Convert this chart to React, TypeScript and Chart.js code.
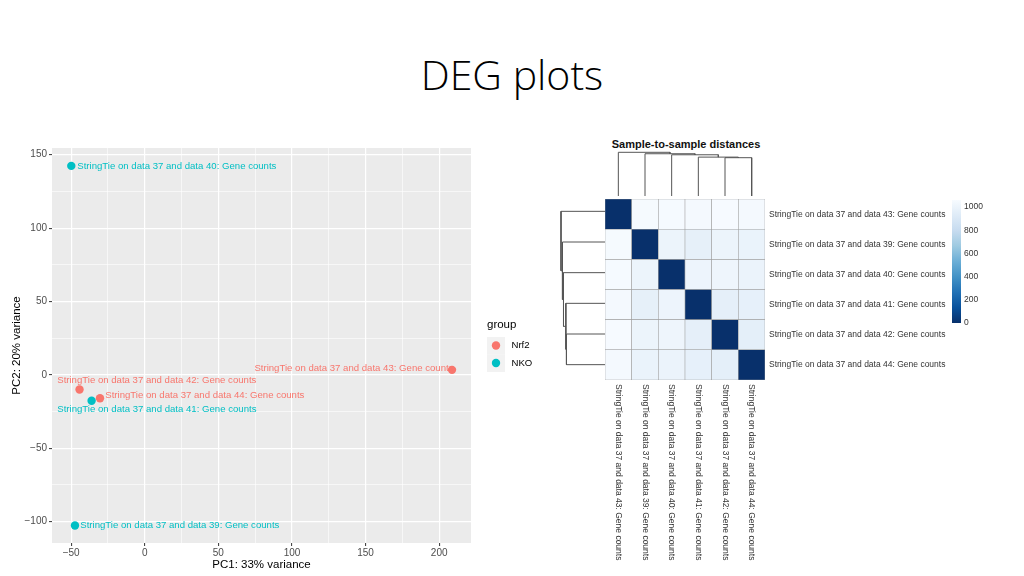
import React, { useEffect, useRef } from "react";
import { Chart, registerables } from "chart.js";

Chart.register(...registerables);
Chart.defaults.font.family = "'Liberation Sans', Arial, sans-serif";

// ---------- PCA data ----------
const samples = [
  "StringTie on data 37 and data 39: Gene counts",
  "StringTie on data 37 and data 40: Gene counts",
  "StringTie on data 37 and data 41: Gene counts",
  "StringTie on data 37 and data 42: Gene counts",
  "StringTie on data 37 and data 43: Gene counts",
  "StringTie on data 37 and data 44: Gene counts",
];
const sampleGroup = ["NKO", "NKO", "NKO", "Nrf2", "Nrf2", "Nrf2"];
const pc1 = [-47.4, -49.9, -36.1, -44.3, 208.7, -30.4];
const pc2 = [-102.7, 142.4, -17.7, -10.0, 3.4, -15.9];
const groups = ["Nrf2", "NKO"];
const groupColors = ["#F8766D", "#00BFC4"];
const xTicksMajor = [-50, 0, 50, 100, 150, 200];
const xTicksMinor = [-25, 25, 75, 125, 175];
const yTicksMajor = [-100, -50, 0, 50, 100, 150];
const yTicksMinor = [-75, -25, 25, 75, 125];

// label placement (style only)
const labelOffsets = [
  { dx: 5.3, dy: 0, align: "left" },
  { dx: 6, dy: 0, align: "left" },
  { dx: -34.3, dy: 8.7, align: "left" },
  { dx: -22.3, dy: -9, align: "left" },
  { dx: 1.5, dy: -1.3, align: "right" },
  { dx: 5.3, dy: -2.7, align: "left" },
];

// ---------- Heatmap data (order: 43, 39, 40, 41, 42, 44) ----------
const heatLabels = [
  "StringTie on data 37 and data 43: Gene counts",
  "StringTie on data 37 and data 39: Gene counts",
  "StringTie on data 37 and data 40: Gene counts",
  "StringTie on data 37 and data 41: Gene counts",
  "StringTie on data 37 and data 42: Gene counts",
  "StringTie on data 37 and data 44: Gene counts",
];
const distRow43 = [0, 1050, 1052, 1042, 1055, 1045];
const distRow39 = [1050, 0, 1000, 968, 1000, 992];
const distRow40 = [1052, 1000, 0, 1005, 1012, 995];
const distRow41 = [1042, 968, 1005, 0, 962, 972];
const distRow42 = [1055, 1000, 1012, 962, 0, 958];
const distRow44 = [1045, 992, 995, 972, 958, 0];
const distMatrix = [distRow43, distRow39, distRow40, distRow41, distRow42, distRow44];
const colorMax = 1060;
const colorLegendTicks = [0, 200, 400, 600, 800, 1000];
const dendroMerges = [[-5, -6], [-4, 1], [-3, 2], [-2, 3], [-1, 4]];
const dendroHeights = [929, 943, 1000, 1025, 1060];

const bluesPalette = ["#08306B", "#08519C", "#2171B5", "#4292C6", "#6BAED6", "#9ECAE1", "#C6DBEF", "#DEEBF7", "#F7FBFF"];

function hexToRgb(h: string) {
  return [parseInt(h.slice(1, 3), 16), parseInt(h.slice(3, 5), 16), parseInt(h.slice(5, 7), 16)];
}
function blues(v: number) {
  const t = Math.max(0, Math.min(1, v / colorMax)) * 8;
  const i = Math.min(7, Math.floor(t));
  const f = t - i;
  const a = hexToRgb(bluesPalette[i]);
  const b = hexToRgb(bluesPalette[i + 1]);
  const c = a.map((x, k) => Math.round(x + (b[k] - x) * f));
  return `rgb(${c[0]},${c[1]},${c[2]})`;
}

function dendroSegments() {
  const pos: number[] = [];
  const hgt: number[] = [];
  const segs: { p: number; h: number }[][] = [];
  const getP = (c: number) => (c < 0 ? -c - 1 + 0.5 : pos[c - 1]);
  const getH = (c: number) => (c < 0 ? 0 : hgt[c - 1]);
  dendroMerges.forEach(([a, b], k) => {
    const pa = getP(a), pb = getP(b), ha = getH(a), hb = getH(b), h = dendroHeights[k];
    segs.push([{ p: pa, h: ha }, { p: pa, h }, { p: pb, h }, { p: pb, h: hb }]);
    pos[k] = (pa + pb) / 2;
    hgt[k] = h;
  });
  return segs;
}

const minus = (v: number) => (v < 0 ? "\u2212" + Math.abs(v) : String(v));

export default function App() {
  const pcaRef = useRef<HTMLCanvasElement>(null);
  const heatRef = useRef<HTMLCanvasElement>(null);
  const topRef = useRef<HTMLCanvasElement>(null);
  const leftRef = useRef<HTMLCanvasElement>(null);

  useEffect(() => {
    const charts: Chart[] = [];
    const isMajor = (v: number, list: number[]) => list.includes(v);

    // ---------- PCA ----------
    const panelBg = {
      id: "panelBg",
      beforeDraw(chart: any) {
        const { ctx, chartArea: a } = chart;
        ctx.save();
        ctx.fillStyle = "#EBEBEB";
        ctx.fillRect(a.left, a.top, a.right - a.left, a.bottom - a.top);
        ctx.restore();
      },
    };
    const pointLabels = {
      id: "pointLabels",
      afterDatasetsDraw(chart: any) {
        const { ctx, scales } = chart;
        ctx.save();
        ctx.font = "9.6px 'Liberation Sans', Arial, sans-serif";
        ctx.textBaseline = "middle";
        samples.forEach((s, i) => {
          const o = labelOffsets[i];
          const px = scales.x.getPixelForValue(pc1[i]);
          const py = scales.y.getPixelForValue(pc2[i]);
          ctx.fillStyle = groupColors[groups.indexOf(sampleGroup[i])];
          ctx.textAlign = o.align;
          ctx.fillText(s, px + o.dx, py + o.dy);
        });
        ctx.restore();
      },
    };
    const groupLegend = {
      id: "groupLegend",
      afterDraw(chart: any) {
        const { ctx } = chart;
        ctx.save();
        ctx.fillStyle = "#000";
        ctx.font = "11.5px 'Liberation Sans', Arial, sans-serif";
        ctx.textBaseline = "middle";
        ctx.textAlign = "left";
        ctx.fillText("group", 487, 185);
        groups.forEach((g, gi) => {
          const top = 197 + gi * 17.5;
          ctx.fillStyle = "#F2F2F2";
          ctx.fillRect(487, top, 18, 17.5);
          ctx.fillStyle = groupColors[gi];
          ctx.beginPath();
          ctx.arc(496, top + 8.5, 4.2, 0, Math.PI * 2);
          ctx.fill();
          ctx.fillStyle = "#000";
          ctx.font = "9.6px 'Liberation Sans', Arial, sans-serif";
          ctx.fillText(g, 511.5, top + 8.5);
        });
        ctx.restore();
      },
    };

    const gridOpts = (major: number[]) => ({
      color: "#FFFFFF",
      lineWidth: (c: any) => (isMajor(c.tick?.value, major) ? 1.2 : 0.6),
      tickColor: (c: any) => (isMajor(c.tick?.value, major) ? "#333333" : "rgba(0,0,0,0)"),
      tickLength: 3,
      tickWidth: 1,
      drawTicks: true,
    });

    charts.push(
      new Chart(pcaRef.current!, {
        type: "scatter",
        data: {
          datasets: groups.map((g, gi) => ({
            label: g,
            data: pc1
              .map((x, i) => ({ x, y: pc2[i], g: sampleGroup[i] }))
              .filter((d) => d.g === g)
              .map((d) => ({ x: d.x, y: d.y })),
            backgroundColor: groupColors[gi],
            borderWidth: 0,
            pointRadius: 4.2,
            pointHoverRadius: 4.2,
          })),
        },
        options: {
          responsive: false,
          animation: false,
          devicePixelRatio: 1,
          events: [],
          layout: { padding: { top: 7, right: 89, left: 0, bottom: 0 } },
          plugins: { legend: { display: false }, tooltip: { enabled: false } },
          scales: {
            x: {
              type: "linear",
              min: -63,
              max: 221.6,
              afterBuildTicks: (s: any) => {
                s.ticks = [...xTicksMajor, ...xTicksMinor].sort((a, b) => a - b).map((v) => ({ value: v }));
              },
              afterFit: (s: any) => {
                s.height = 33;
              },
              grid: gridOpts(xTicksMajor) as any,
              border: { display: false },
              ticks: {
                autoSkip: false,
                maxRotation: 0,
                padding: 1,
                color: "#4D4D4D",
                font: { size: 10 },
                callback: (v: any) => (isMajor(v, xTicksMajor) ? minus(v) : ""),
              },
              title: {
                display: true,
                text: "PC1: 33% variance",
                color: "#000",
                font: { size: 11.5 },
                padding: { top: 0, bottom: 4 },
              },
            },
            y: {
              type: "linear",
              min: -114.6,
              max: 154.6,
              afterBuildTicks: (s: any) => {
                s.ticks = [...yTicksMajor, ...yTicksMinor].sort((a, b) => a - b).map((v) => ({ value: v }));
              },
              afterFit: (s: any) => {
                s.width = 52;
              },
              grid: gridOpts(yTicksMajor) as any,
              border: { display: false },
              ticks: {
                autoSkip: false,
                padding: 2,
                color: "#4D4D4D",
                font: { size: 10 },
                callback: (v: any) => (isMajor(v, yTicksMajor) ? minus(v) : ""),
              },
              title: {
                display: true,
                text: "PC2: 20% variance",
                color: "#000",
                font: { size: 11.5 },
                padding: { top: 10, bottom: 0 },
              },
            },
          },
        },
        plugins: [panelBg, pointLabels, groupLegend],
      } as any)
    );

    // ---------- Heatmap ----------
    const colLabels = {
      id: "colLabels",
      afterDraw(chart: any) {
        const { ctx, scales, chartArea } = chart;
        ctx.save();
        ctx.font = "8.5px 'Liberation Sans', Arial, sans-serif";
        ctx.fillStyle = "#333";
        ctx.textAlign = "left";
        ctx.textBaseline = "middle";
        heatLabels.forEach((l, j) => {
          const x = scales.x.getPixelForValue(j);
          ctx.save();
          ctx.translate(x, chartArea.bottom + 4);
          ctx.rotate(Math.PI / 2);
          ctx.fillText(l, 0, 0);
          ctx.restore();
        });
        // colour legend
        const bx = 362, bw = 9, bTop = 10, bBot = 133;
        const grad = ctx.createLinearGradient(0, bBot, 0, bTop);
        bluesPalette.forEach((c, i) => grad.addColorStop(i / 8, c));
        ctx.fillStyle = grad;
        ctx.fillRect(bx, bTop, bw, bBot - bTop);
        ctx.fillStyle = "#333";
        colorLegendTicks.forEach((v) => {
          const y = bBot - (v / colorMax) * (bBot - bTop);
          ctx.fillText(String(v), bx + bw + 3, y);
        });
        ctx.restore();
      },
    };

    charts.push(
      new Chart(heatRef.current!, {
        type: "bar",
        data: {
          labels: heatLabels,
          datasets: heatLabels.map((_, k) => {
            const r = heatLabels.length - 1 - k;
            return {
              label: heatLabels[r],
              data: heatLabels.map(() => 1),
              backgroundColor: distMatrix[r].map((v) => blues(v)),
              borderColor: "#A0A0A0",
              borderWidth: 0.6,
              borderSkipped: false,
              barPercentage: 1,
              categoryPercentage: 1,
            };
          }),
        },
        options: {
          responsive: false,
          animation: false,
          devicePixelRatio: 1,
          events: [],
          layout: { padding: { left: 15, top: 6, bottom: 196, right: 0 } },
          plugins: { legend: { display: false }, tooltip: { enabled: false } },
          scales: {
            x: { stacked: true, display: false },
            y: {
              stacked: true,
              position: "right",
              min: 0,
              max: 6,
              afterBuildTicks: (s: any) => {
                s.ticks = heatLabels.map((_, i) => ({ value: i + 0.5 }));
              },
              afterFit: (s: any) => {
                s.width = 259;
              },
              grid: { display: false, drawTicks: false },
              border: { display: false },
              ticks: {
                autoSkip: false,
                padding: 4,
                color: "#333",
                font: { size: 8.5 },
                callback: (v: any) => heatLabels[heatLabels.length - 1 - Math.floor(v)],
              },
            },
          },
        },
        plugins: [colLabels],
      } as any)
    );

    // ---------- Dendrograms ----------
    const segs = dendroSegments();
    const lineDs = (pts: { x: number; y: number }[]) => ({
      data: pts,
      showLine: true,
      pointRadius: 0,
      borderColor: "#555555",
      borderWidth: 1,
      tension: 0,
      fill: false,
      clip: false,
    });
    charts.push(
      new Chart(topRef.current!, {
        type: "scatter",
        data: { datasets: segs.map((s) => lineDs(s.map((q) => ({ x: q.p, y: q.h })))) },
        options: {
          responsive: false,
          animation: false,
          devicePixelRatio: 1,
          events: [],
          layout: { padding: { left: 5, right: 5, top: 12.3, bottom: 4 } },
          plugins: { legend: { display: false }, tooltip: { enabled: false } },
          scales: {
            x: { type: "linear", min: 0, max: 6, display: false },
            y: { type: "linear", min: 0, max: 1060, display: false },
          },
        },
      } as any)
    );
    charts.push(
      new Chart(leftRef.current!, {
        type: "scatter",
        data: { datasets: segs.map((s) => lineDs(s.map((q) => ({ x: q.h, y: q.p })))) },
        options: {
          responsive: false,
          animation: false,
          devicePixelRatio: 1,
          events: [],
          layout: { padding: { left: 6, right: 5, top: 6, bottom: 6 } },
          plugins: { legend: { display: false }, tooltip: { enabled: false } },
          scales: {
            x: { type: "linear", min: 0, max: 1060, reverse: true, display: false },
            y: { type: "linear", min: 0, max: 6, reverse: true, display: false },
          },
        },
      } as any)
    );

    return () => charts.forEach((c) => c.destroy());
  }, []);

  const abs = (left: number, top: number): React.CSSProperties => ({ position: "absolute", left, top });

  return (
    <div style={{ position: "fixed", left: 0, top: 0, width: 1024, height: 576, background: "#fff", overflow: "hidden" }}>
      <div
        style={{
          position: "absolute",
          left: 0,
          top: 53.5,
          width: 1024,
          textAlign: "center",
          fontFamily: "'Open Sans', sans-serif",
          fontWeight: 300,
          fontSize: 41,
          lineHeight: "41px",
          color: "#000",
        }}
      >
        DEG plots
      </div>
      <div
        style={{
          position: "absolute",
          left: 586,
          top: 137.5,
          width: 200,
          textAlign: "center",
          fontFamily: "'Liberation Sans', Arial, sans-serif",
          fontWeight: 700,
          fontSize: 11,
          lineHeight: "13px",
          color: "#111",
        }}
      >
        Sample-to-sample distances
      </div>
      <canvas ref={pcaRef} width={560} height={436} style={abs(0, 140)} />
      <canvas ref={topRef} width={170} height={60} style={abs(600, 140)} />
      <canvas ref={leftRef} width={55} height={196} style={abs(555, 190)} />
      <canvas ref={heatRef} width={434} height={386} style={abs(590, 190)} />
    </div>
  );
}
